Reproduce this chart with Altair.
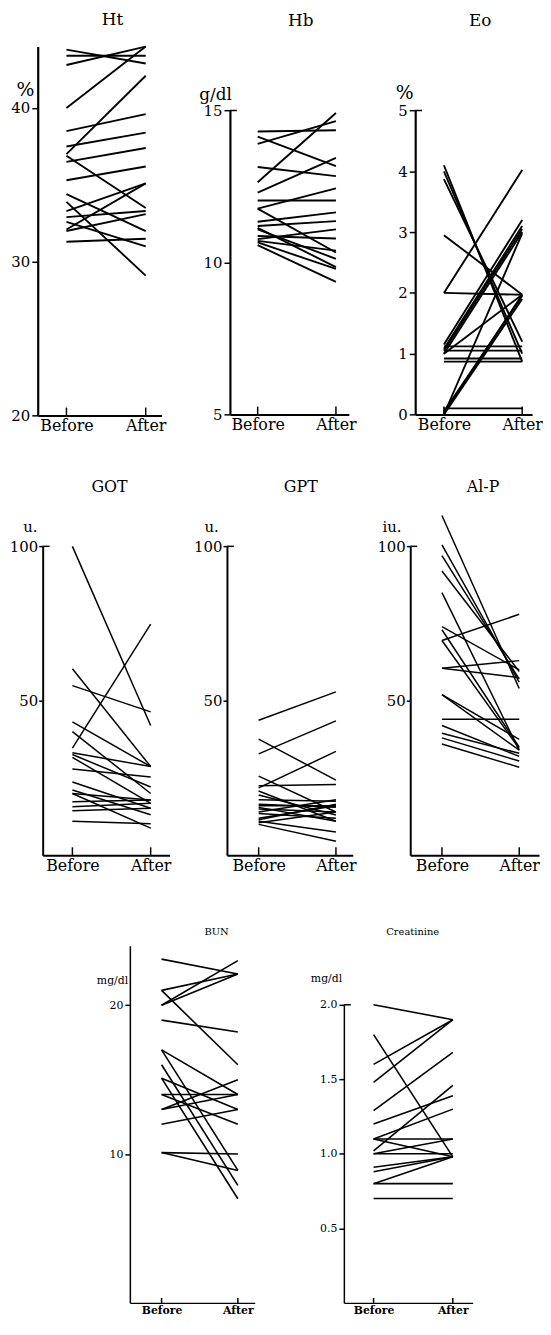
import altair as alt
import pandas as pd

FONT = "DejaVu Serif"

# ---------------- data (Before / After per subject) ----------------
ht_before = [43.8, 43.4, 42.8, 40.0, 38.5, 37.5, 37.0, 36.9, 36.5, 35.3, 34.4, 33.9, 33.3, 32.9, 32.6, 32.1, 32.0, 31.3]
ht_after  = [42.9, 43.4, 44.0, 44.0, 39.6, 38.4, 42.1, 33.5, 37.4, 36.2, 32.0, 29.1, 35.1, 33.3, 31.0, 35.1, 33.1, 31.5]

hb_before = [14.31, 14.14, 13.9, 13.14, 12.64, 12.3, 12.04, 11.77, 11.77, 11.34, 11.2, 11.14, 11.09, 10.87, 10.77, 10.71, 10.66, 10.57]
hb_after  = [14.35, 13.17, 14.65, 12.84, 14.92, 13.44, 12.04, 12.44, 10.33, 11.65, 11.36, 9.85, 10.12, 10.79, 11.09, 10.39, 9.79, 9.36]

eo_before = [4.1, 4.0, 3.87, 2.95, 2.0, 2.0, 1.15, 1.08, 1.05, 1.0, 1.0, 1.12, 1.05, 0.92, 0.87, 0.1, 0.0, 0.02, 0.05, 0.0]
eo_after  = [0.87, 1.0, 1.2, 1.97, 4.02, 1.97, 3.2, 3.1, 3.05, 3.0, 1.97, 1.12, 1.05, 0.92, 0.87, 0.1, 2.98, 1.97, 1.95, 1.9]

got_before = [100, 60.4, 54.9, 34.7, 43.2, 40.0, 33.2, 32.6, 31.7, 27.9, 23.7, 21.1, 20.0, 17.3, 15.7, 14.4, 11.0, 20.0]
got_after  = [42.0, 28.7, 46.4, 74.8, 28.7, 20.0, 28.7, 22.1, 16.8, 25.3, 15.2, 13.1, 8.8, 17.9, 16.8, 15.2, 10.2, 17.9]

gpt_before = [43.7, 32.8, 37.6, 25.6, 21.8, 22.5, 20.8, 19.5, 18.0, 16.5, 16.0, 15.5, 15.0, 14.0, 13.5, 12.0, 11.0, 10.5, 10.0, 11.5]
gpt_after  = [52.9, 43.5, 24.3, 14.0, 33.6, 22.9, 11.0, 13.0, 17.5, 15.5, 16.0, 11.0, 14.0, 18.0, 12.0, 16.0, 7.5, 14.0, 4.5, 16.5]

alp_before = [110, 100.5, 97, 92, 85, 74, 73, 69.5, 69.5, 60.5, 60.5, 52, 52, 44, 42, 39.5, 38, 36]
alp_after  = [54, 56, 57, 59.5, 34, 60, 35, 78, 34.5, 63, 57.5, 34, 37.5, 44, 32, 33, 30.5, 28.5]

bun_before = [23.1, 21.0, 21.0, 20.0, 20.0, 19.0, 17.0, 17.0, 16.0, 15.1, 15.1, 14.0, 14.0, 13.0, 13.0, 12.0, 10.1, 10.1]
bun_after  = [22.1, 22.1, 16.0, 23.0, 22.1, 18.2, 14.0, 8.9, 7.9, 13.0, 7.0, 14.0, 12.0, 15.0, 14.0, 13.0, 10.0, 8.9]

cre_before = [2.0, 1.8, 1.6, 1.48, 1.29, 1.2, 1.1, 1.1, 1.02, 1.0, 1.0, 1.1, 0.91, 0.88, 0.8, 0.8, 0.7]
cre_after  = [1.9, 0.98, 1.9, 1.9, 1.68, 1.39, 1.3, 1.1, 1.46, 1.1, 1.0, 0.98, 0.98, 0.98, 0.98, 0.8, 0.7]

phase_values = [0, 1]
phase_labels = ["Before", "After"]

# ---------------- layout (page pixels of the reference figure) ----------------
OX, OY = 8, 8          # page position of the plot origin
W_ALL, H_ALL = 540, 1316
KY = 0.993             # slight vertical compression so the page does not scroll


def PY(page_y):
    """page y of the reference -> pixel inside the view"""
    return (page_y - OY) * KY


PANELS = [
    dict(title="Ht", before=ht_before, after=ht_after, unit="%", ydom=[20, 44], yticks=[20, 30, 40],
         axis_x=38, axis_w=125, b=29, a=109, top=41, bottom=416, title_xy=(113, 14),
         unit_xy=(25, 85), unit_size=19, row=1, top_tick=False),
    dict(title="Hb", before=hb_before, after=hb_after, unit="g/dl", ydom=[5, 15], yticks=[5, 10, 15],
         axis_x=232, axis_w=120, b=28, a=107, top=106, bottom=415, title_xy=(303, 15),
         unit_xy=(217, 90), unit_size=17, row=1, top_tick=True),
    dict(title="Eo", before=eo_before, after=eo_after, unit="%", ydom=[0, 5], yticks=[0, 1, 2, 3, 4, 5],
         axis_x=419, axis_w=118, b=29, a=108, top=106, bottom=415, title_xy=(484, 15),
         unit_xy=(408, 88), unit_size=19, row=1, top_tick=True),
    dict(title="GOT", before=got_before, after=got_after, unit="u.", ydom=[0, 100], yticks=[50, 100],
         axis_x=43, axis_w=128, b=30, a=109, top=549, bottom=863, title_xy=(110, 488),
         unit_xy=(30, 529), unit_size=15, row=2, top_tick=True),
    dict(title="GPT", before=gpt_before, after=gpt_after, unit="u.", ydom=[0, 100], yticks=[50, 100],
         axis_x=229, axis_w=127, b=32, a=110, top=549, bottom=863, title_xy=(303, 488),
         unit_xy=(213, 529), unit_size=15, row=2, top_tick=True),
    dict(title="Al-P", before=alp_before, after=alp_after, unit="iu.", ydom=[0, 100], yticks=[50, 100],
         axis_x=414, axis_w=130, b=32, a=110, top=549, bottom=863, title_xy=(487, 488),
         unit_xy=(395, 529), unit_size=15, row=2, top_tick=True),
    dict(title="BUN", before=bun_before, after=bun_after, unit="mg/dl", ydom=[0, 24], yticks=[10, 20],
         axis_x=131, axis_w=126, b=32, a=109, top=955, bottom=1318, title_xy=(218, 941),
         unit_xy=(113, 990), unit_size=11, row=3, top_tick=False),
    dict(title="Creatinine", before=cre_before, after=cre_after, unit="mg/dl", ydom=[0, 2.0],
         yticks=[0.5, 1.0, 1.5, 2.0], axis_x=347, axis_w=130, b=30, a=110, top=1015, bottom=1318,
         title_xy=(416, 941), unit_xy=(329, 988), unit_size=11, row=3, top_tick=True, fmt=".1f"),
]

ROW_STYLE = {
    1: dict(xlab=16, ylab=15, tfs=17, sw=1.9, dw=2.2, tick=6, lpad=2, xbold=False, xtick=8),
    2: dict(xlab=16, ylab=15, tfs=16, sw=1.5, dw=2.0, tick=4, lpad=1, xbold=False, xtick=8),
    3: dict(xlab=11, ylab=11, tfs=10, sw=1.6, dw=1.5, tick=5, lpad=2, xbold=True, xtick=5),
}


def make_df(before, after):
    rows = []
    for i, (b, a) in enumerate(zip(before, after)):
        rows.append({"id": i, "t": 0, "v": b})
        rows.append({"id": i, "t": 1, "v": a})
    return pd.DataFrame(rows)


def panel(p):
    st = ROW_STYLE[p["row"]]
    x0 = p["axis_x"] - OX
    ybot = PY(p["bottom"])
    ytop = PY(p["top"])
    u = p["a"] - p["b"]
    xdom = [-p["b"] / u, (p["axis_w"] - p["b"]) / u]
    xs = alt.Scale(domain=xdom, range=[x0, x0 + p["axis_w"]], nice=False, zero=False)
    ys = alt.Scale(domain=p["ydom"], range=[ybot, ytop], nice=False, zero=False)
    x_axis = alt.Axis(
        orient="bottom", offset=ybot - H_ALL, values=phase_values,
        labelExpr="datum.value == 0 ? '%s' : '%s'" % tuple(phase_labels),
        labelFont=FONT, labelFontSize=st["xlab"], labelColor="black", labelPadding=2,
        labelFontWeight="bold" if st["xbold"] else "normal", labelFlush=False,
        ticks=False, grid=False, domainWidth=st["dw"], domainColor="black",
        title=p["title"], titleX=p["title_xy"][0] - OX, titleY=PY(p["title_xy"][1]) - ybot,
        titleAngle=0, titleAlign="center", titleBaseline="middle", titleFont=FONT,
        titleFontSize=st["tfs"], titleFontWeight="normal", titleColor="black")
    y_axis = alt.Axis(
        orient="left", offset=-x0, values=p["yticks"], format=p.get("fmt", "d"),
        labelFont=FONT, labelFontSize=st["ylab"], labelColor="black", labelPadding=st["lpad"],
        tickSize=st["tick"], tickWidth=1.5, tickColor="black", grid=False,
        domainWidth=st["dw"], domainColor="black",
        title=p["unit"], titleX=p["unit_xy"][0] - p["axis_x"], titleY=PY(p["unit_xy"][1]),
        titleAngle=0, titleAlign="center", titleBaseline="middle", titleFont=FONT,
        titleFontSize=p["unit_size"], titleFontWeight="normal", titleColor="black")

    df = make_df(p["before"], p["after"])
    lines = alt.Chart(df).mark_line(color="black", strokeWidth=st["sw"]).encode(
        x=alt.X("t:Q", scale=xs, axis=x_axis),
        y=alt.Y("v:Q", scale=ys, axis=y_axis),
        detail="id:N",
    )
    xticks = alt.Chart(pd.DataFrame({"t": phase_values})).mark_rule(
        color="black", strokeWidth=1.5).encode(
        x=alt.X("t:Q", scale=xs, axis=x_axis),
        y=alt.value(ybot), y2=alt.value(ybot - st["xtick"]))
    layers = [lines, xticks]
    if p["top_tick"]:
        tt = alt.Chart(pd.DataFrame({"v": [p["ydom"][1]]})).mark_rule(
            color="black", strokeWidth=1.5).encode(
            y=alt.Y("v:Q", scale=ys, axis=y_axis),
            x=alt.value(x0), x2=alt.value(x0 + 7))
        layers.append(tt)
    return alt.layer(*layers)


chart = alt.layer(*[panel(p) for p in PANELS]).resolve_scale(
    x="independent", y="independent"
).resolve_axis(
    x="independent", y="independent"
).properties(
    width=W_ALL, height=H_ALL, padding=0, background="white",
    autosize=alt.AutoSizeParams(type="none"),
).configure_view(stroke=None).configure_axis(grid=False)

chart.save("out.html", embed_options={"renderer": "svg", "actions": False})
